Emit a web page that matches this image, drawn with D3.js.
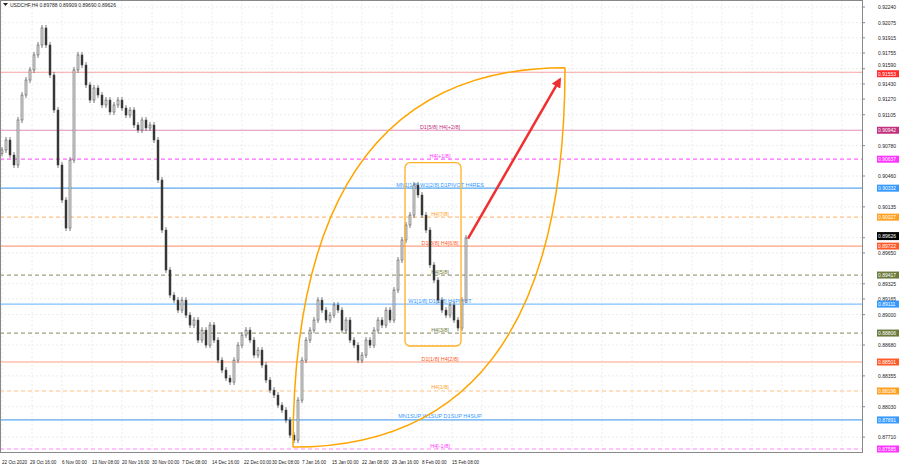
<!DOCTYPE html>
<html><head><meta charset="utf-8">
<script src="https://cdn.jsdelivr.net/npm/d3@7"></script>
<style>body{margin:0;background:#fff}svg{font-family:"Liberation Sans",sans-serif}</style>
</head><body><div id="chart"></div>
<script>
const closes = [.90734,.90839,.90681,.90576,.91050,.91313,.91471,.91577,.91735,.91840,.92019,.91840,.91524,.91155,.90576,.90207,.89912,.90628,.91577,.91735,
.91629,.91419,.91260,.91387,.91313,.91208,.91260,.91134,.91208,.91260,.91176,.91102,.91155,.90997,.90944,.91050,.90966,.90997,.90839,.90418,
.89891,.89470,.89206,.89153,.89048,.89153,.88995,.88890,.88943,.88732,.88837,.88679,.88890,.88732,.88521,.88416,.88332,.88290,.88521,.88679,
.88785,.88837,.88732,.88574,.88627,.88469,.88311,.88205,.88153,.88047,.87995,.87889,.87731,.87679,.88100,.88521,.88732,.88837,.88943,.89153,
.89048,.88943,.88995,.89101,.89048,.88837,.88943,.88732,.88679,.88521,.88574,.88732,.88679,.88837,.88943,.88890,.89048,.88943,.89259,.89575,
.89786,.89944,.90049,.90365,.90260,.90049,.89891,.89523,.89364,.89153,.89048,.88995,.89101,.88943,.88859,.89153,.89807];
const firstOpen = 0.90700;
const dateLabels = ["22 Oct 2020","29 Oct 16:00","6 Nov 00:00","13 Nov 08:00","20 Nov 16:00","30 Nov 00:00","7 Dec 08:00","14 Dec 16:00","22 Dec 00:00","30 Dec 08:00","7 Jan 16:00","15 Jan 00:00","22 Jan 08:00","29 Jan 16:00","8 Feb 00:00","15 Feb 08:00"];
const dateIdx = [0,7,15,22.5,30,37.5,45,52.5,60.5,67.5,75,82.5,90,97.5,105,112.5];
const priceTicks = [.92240,.92075,.91915,.91755,.91590,.91430,.91270,.91105,.90780,.90460,.90135,.89810,.89650,.89325,.89165,.89000,.88680,.88355,.88030,.87710];
const levelPrices = [.91553,.90942,.90637,.90332,.90027,.89722,.89417,.89111,.88806,.88501,.88196,.87891,.87585];
const levelNames = ["","D1[5/8] H4[+2/8]","H4[+1/8]","MN1[1/8] W1[2/8] D1PIVOT H4RES","H4[7/8]","D1[3/8] H4[6/8]","H4[5/8]","W1[1/8] D1[2/8] H4PIVOT","H4[3/8]","D1[1/8] H4[2/8]","H4[1/8]","MN1SUP W1SUP D1SUP H4SUP","H4[-1/8]"];
const levelColors = ["#ff2a2a","#c2307e","#ff33ff","#3399ff","#ff9f1f","#ff5a28","#6b7a3a","#3399ff","#6b7a3a","#ff5a28","#ff9f1f","#3399ff","#ff33ff"];
const levelLine = ["#f4a0a0","#e090b8","#ff66ff","#5aa8f0","#ffc080","#ffa080","#a0a080","#80c0ff","#a0a080","#ffa080","#ffc080","#5aa8f0","#ff88ff"];
const levelDash = [0,0,1,0,1,0,1,0,1,0,1,0,1];
const lastPrice = 0.89626;

const W = 900, H = 468, right = 862, bottom = 452;
const x = d3.scaleLinear().domain([0,116]).range([2,466]);
const y = d3.scaleLinear().domain([0.87585,0.92240]).range([449,7]);
const svg = d3.select("#chart").append("svg").attr("width",W).attr("height",H);

const g = svg.append("g");
// grid
const gridIdx = d3.range(0,220,7.5);
g.selectAll(".vg").data(gridIdx.filter(d=>x(d)<right)).enter().append("line")
  .attr("x1",d=>x(d)).attr("x2",d=>x(d)).attr("y1",0).attr("y2",bottom)
  .attr("stroke","#ececec").attr("stroke-dasharray","2,2");
g.selectAll(".hg").data(priceTicks).enter().append("line")
  .attr("x1",0).attr("x2",right).attr("y1",d=>y(d)).attr("y2",d=>y(d))
  .attr("stroke","#ececec").attr("stroke-dasharray","2,2");

// levels
levelPrices.forEach((p,i)=>{
  g.append("line").attr("x1",0).attr("x2",right).attr("y1",y(p)).attr("y2",y(p))
   .attr("stroke",levelLine[i]).attr("stroke-width",1.2)
   .attr("stroke-dasharray",levelDash[i]?"4,3":null);
  if(levelNames[i]) g.append("text").attr("x",440).attr("y",y(p)-1.5).attr("text-anchor","middle")
   .attr("font-size",5.5).attr("fill",levelColors[i]).text(levelNames[i]);
});

// candles
closes.forEach((c,i)=>{
  const o = i ? closes[i-1] : firstOpen;
  g.append("line").attr("x1",x(i)).attr("x2",x(i)).attr("y1",y(Math.max(o,c))-3).attr("y2",y(Math.min(o,c))+3)
   .attr("stroke","#444").attr("stroke-width",0.7);
  g.append("rect").attr("x",x(i)-1).attr("width",2)
   .attr("y",y(Math.max(o,c))).attr("height",Math.max(1,Math.abs(y(o)-y(c))))
   .attr("fill",c>=o?"#ddd":"#333").attr("stroke","#444").attr("stroke-width",0.5);
});

// annotations
const A = [72.75,0.87605], B = [140.75,0.91600];
const arc = d3.path();
arc.moveTo(x(A[0]),y(A[1])); arc.quadraticCurveTo(x(A[0]),y(B[1]),x(B[0]),y(B[1]));
arc.moveTo(x(A[0]),y(A[1])); arc.quadraticCurveTo(x(B[0]),y(A[1]),x(B[0]),y(B[1]));
g.append("path").attr("d",arc.toString()).attr("fill","none").attr("stroke","#ffa500").attr("stroke-width",1.5);
g.append("rect").attr("x",x(100.75)).attr("y",y(0.90600)).attr("width",x(114.75)-x(100.75)).attr("height",y(0.88670)-y(0.90600))
  .attr("rx",5).attr("fill","none").attr("stroke","#ffb020").attr("stroke-width",1.3);
const ax1=x(116.5), ay1=y(0.89800), ax2=x(139.5), ay2=y(0.91480);
svg.append("defs").append("marker").attr("id","ah").attr("viewBox","0 0 10 10").attr("refX",8).attr("refY",5)
  .attr("markerWidth",4).attr("markerHeight",4).attr("orient","auto")
  .append("path").attr("d","M0,0L10,5L0,10z").attr("fill","#f03030");
g.append("line").attr("x1",ax1).attr("y1",ay1).attr("x2",ax2).attr("y2",ay2)
  .attr("stroke","#f03030").attr("stroke-width",2.5).attr("marker-end","url(#ah)");

// axes frame
svg.append("rect").attr("x",0.5).attr("y",0.5).attr("width",right).attr("height",bottom).attr("fill","none").attr("stroke","#888");
svg.selectAll(".pt").data(priceTicks).enter().append("text")
  .attr("x",right+16).attr("y",d=>y(d)+(d===0.91590?-1.5:2)).attr("font-size",5).attr("fill","#222").text(d=>d.toFixed(5));
svg.selectAll(".pm").data(priceTicks).enter().append("line")
  .attr("x1",right).attr("x2",right+3).attr("y1",d=>y(d)).attr("y2",d=>y(d)).attr("stroke","#888");
levelPrices.forEach((p,i)=>{
  const ly = y(p) + (i===0?1.5:0);
  svg.append("rect").attr("x",right+15).attr("y",ly-3.5).attr("width",22).attr("height",7).attr("fill",levelColors[i]);
  svg.append("text").attr("x",right+16).attr("y",ly+2).attr("font-size",5).attr("fill","#fff").text(p.toFixed(5));
});
const lastY = y(0.89722)-10;
svg.append("rect").attr("x",right+15).attr("y",lastY-4).attr("width",22).attr("height",8).attr("fill","#000");
svg.append("text").attr("x",right+16).attr("y",lastY+2).attr("font-size",5).attr("fill","#fff").text(lastPrice.toFixed(5));
svg.selectAll(".dt").data(dateIdx).enter().append("text")
  .attr("x",d=>x(d)).attr("y",bottom+12).attr("font-size",4.6).attr("fill","#222").text((d,i)=>dateLabels[i]);
svg.append("path").attr("d","M3,3L8,3L5.5,6z").attr("fill","#222");
svg.append("text").attr("x",10).attr("y",7).attr("font-size",5).attr("fill","#222")
  .text("USDCHF,H4  0.89788 0.89909 0.89690 0.89626");
</script></body></html>
